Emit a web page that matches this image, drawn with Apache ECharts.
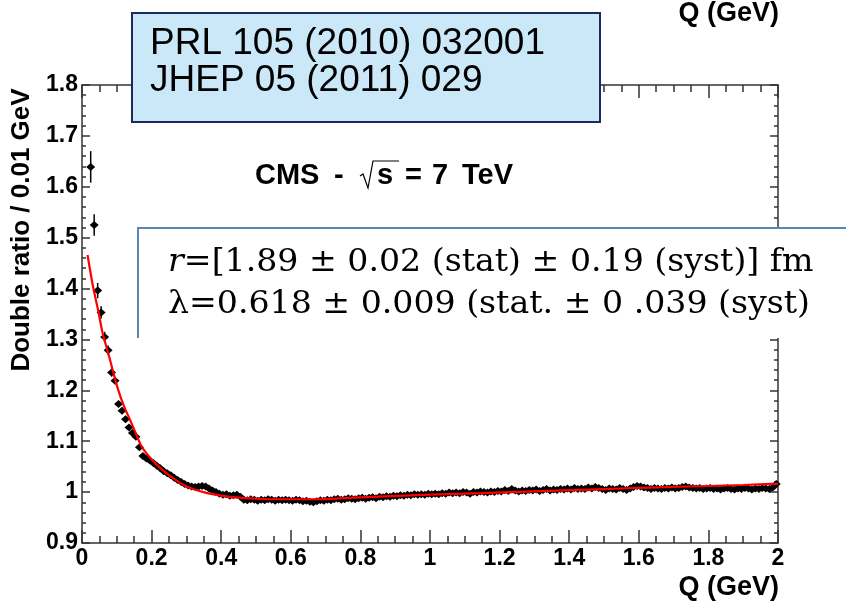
<!DOCTYPE html>
<html><head><meta charset="utf-8">
<script src="https://cdn.jsdelivr.net/npm/echarts@6/dist/echarts.min.js"></script>
<style>html,body{margin:0;padding:0;background:#fff}#c{width:846px;height:602px}</style>
</head><body><div id="c"></div>
<script>
// Bin centres (GeV)
const qValues = [
0.025,0.035,0.045,0.055,0.065,0.075,0.085,0.095,0.105,0.115,
0.125,0.135,0.145,0.155,0.165,0.175,0.185,0.195,0.205,0.215,
0.225,0.235,0.245,0.255,0.265,0.275,0.285,0.295,0.305,0.315,
0.325,0.335,0.345,0.355,0.365,0.375,0.385,0.395,0.405,0.415,
0.425,0.435,0.445,0.455,0.465,0.475,0.485,0.495,0.505,0.515,
0.525,0.535,0.545,0.555,0.565,0.575,0.585,0.595,0.605,0.615,
0.625,0.635,0.645,0.655,0.665,0.675,0.685,0.695,0.705,0.715,
0.725,0.735,0.745,0.755,0.765,0.775,0.785,0.795,0.805,0.815,
0.825,0.835,0.845,0.855,0.865,0.875,0.885,0.895,0.905,0.915,
0.925,0.935,0.945,0.955,0.965,0.975,0.985,0.995,1.005,1.015,
1.025,1.035,1.045,1.055,1.065,1.075,1.085,1.095,1.105,1.115,
1.125,1.135,1.145,1.155,1.165,1.175,1.185,1.195,1.205,1.215,
1.225,1.235,1.245,1.255,1.265,1.275,1.285,1.295,1.305,1.315,
1.325,1.335,1.345,1.355,1.365,1.375,1.385,1.395,1.405,1.415,
1.425,1.435,1.445,1.455,1.465,1.475,1.485,1.495,1.505,1.515,
1.525,1.535,1.545,1.555,1.565,1.575,1.585,1.595,1.605,1.615,
1.625,1.635,1.645,1.655,1.665,1.675,1.685,1.695,1.705,1.715,
1.725,1.735,1.745,1.755,1.765,1.775,1.785,1.795,1.805,1.815,
1.825,1.835,1.845,1.855,1.865,1.875,1.885,1.895,1.905,1.915,
1.925,1.935,1.945,1.955,1.965,1.975,1.985,1.995
];
// Double ratio per bin
const ratioValues = [
1.639,1.525,1.396,1.353,1.305,1.279,1.235,1.219,1.173,1.160,
1.143,1.127,1.116,1.109,1.088,1.071,1.066,1.062,1.057,1.052,
1.047,1.041,1.037,1.033,1.028,1.024,1.020,1.016,1.013,1.011,
1.010,1.011,1.012,1.011,1.007,1.003,1.000,0.997,0.995,0.996,
0.993,0.994,0.995,0.991,0.985,0.984,0.986,0.985,0.983,0.985,
0.984,0.986,0.985,0.983,0.985,0.984,0.985,0.984,0.983,0.985,
0.984,0.982,0.983,0.981,0.980,0.982,0.984,0.983,0.985,0.984,
0.986,0.987,0.985,0.986,0.988,0.987,0.986,0.988,0.989,0.987,
0.989,0.990,0.988,0.991,0.990,0.992,0.991,0.993,0.992,0.994,
0.993,0.995,0.994,0.996,0.995,0.996,0.995,0.997,0.996,0.997,
0.996,0.998,0.997,0.999,0.998,0.999,0.998,1.000,0.999,0.997,
1.000,0.999,1.001,1.000,0.999,1.001,1.000,1.002,1.001,1.004,
1.002,1.006,1.003,1.001,1.003,1.002,1.004,1.003,1.005,1.002,
1.004,1.006,1.003,1.005,1.004,1.006,1.005,1.007,1.005,1.008,
1.006,1.007,1.006,1.009,1.007,1.010,1.008,1.006,1.004,1.007,
1.006,1.005,1.008,1.006,1.004,1.007,1.010,1.012,1.011,1.009,
1.008,1.006,1.008,1.007,1.006,1.008,1.007,1.009,1.007,1.008,
1.010,1.011,1.009,1.008,1.007,1.008,1.006,1.007,1.008,1.006,
1.007,1.005,1.007,1.008,1.006,1.005,1.007,1.006,1.008,1.007,
1.005,1.007,1.006,1.008,1.007,1.006,1.009,1.016
];
// Statistical errors of the first bins (later ones hidden under markers)
const ratioErrors = [0.031,0.021,0.015,0.012,0.010,0.009,0.008,0.007,0.006,0.006,0.005,0.005];
// Fit curve
const fitQ = [0.016,0.03,0.047,0.06,0.0755,0.09,0.104,0.12,0.138,0.155,0.171,0.195,0.219,0.245,0.267,0.295,0.319,0.36,0.4,0.45,0.5,0.55,0.6,0.68,0.75,0.85,1.0,1.15,1.32,1.5,1.63,1.8,1.9,2.0];
const fitValues = [1.466,1.41,1.355,1.31,1.273,1.235,1.201,1.17,1.142,1.115,1.090,1.068,1.051,1.036,1.025,1.013,1.006,0.998,0.993,0.989,0.987,0.986,0.986,0.986,0.988,0.991,0.995,0.998,1.002,1.006,1.009,1.012,1.014,1.0165];

const chart = echarts.init(document.getElementById('c'), null, {renderer: 'canvas'});
const pts = qValues.map((q, i) => [q, ratioValues[i]]);
const errPts = ratioErrors.map((e, i) => [qValues[i], ratioValues[i], e]);
const fitPts = fitQ.map((q, i) => [q, fitValues[i]]);

const SANS = '"Liberation Sans", Arial, Helvetica, sans-serif';
const SERIF = '"DejaVu Serif", "Liberation Serif", serif';
const AX = '#333';
const lbl = {fontFamily: SANS, fontWeight: 'bold', fontSize: 23, color: '#000'};

function xAx(pos, showLabel) {
  return {type: 'value', min: 0, max: 2, interval: 0.2, position: pos,
    axisLine: {show: true, onZero: false, lineStyle: {color: AX, width: 1.5}},
    axisTick: {show: true, inside: true, length: 13, lineStyle: {color: AX, width: 1.5}},
    minorTick: {show: true, splitNumber: 4, length: 7, lineStyle: {color: AX, width: 1.5}},
    splitLine: {show: false}, minorSplitLine: {show: false},
    axisLabel: Object.assign({show: showLabel, margin: 4}, lbl)};
}
function yAx(pos, showLabel) {
  return {type: 'value', min: 0.9, max: 1.8, interval: 0.1, position: pos,
    axisLine: {show: true, onZero: false, lineStyle: {color: AX, width: 1.5}},
    axisTick: {show: true, inside: true, length: 8, lineStyle: {color: AX, width: 1.5}},
    minorTick: {show: true, splitNumber: 5, length: 4, lineStyle: {color: AX, width: 1.5}},
    splitLine: {show: false}, minorSplitLine: {show: false},
    axisLabel: Object.assign({show: showLabel, margin: 4}, lbl)};
}
function boldText(t, x, y, size) {
  return {type: 'text', z: 101, x: x, y: y,
    style: {text: t, font: 'bold ' + size + 'px ' + SANS, fill: '#000', verticalAlign: 'middle'}};
}

const option = {
  animation: false,
  backgroundColor: '#fff',
  grid: {left: 82, right: 68, top: 85, bottom: 59},
  xAxis: [xAx('bottom', true), xAx('top', false)],
  yAxis: [yAx('left', true), yAx('right', false)],
  series: [
    {type: 'custom', data: errPts, encode: {x: 0, y: 1}, z: 2,
      renderItem: function (params, api) {
        const x = api.value(0), y = api.value(1), e = api.value(2);
        const p1 = api.coord([x, y - e]), p2 = api.coord([x, y + e]);
        return {type: 'line', shape: {x1: p1[0], y1: p1[1], x2: p2[0], y2: p2[1]},
          style: {stroke: '#000', lineWidth: 1.5}};
      }},
    {type: 'scatter', data: pts, symbol: 'diamond', symbolSize: [9, 8], itemStyle: {color: '#000', opacity: 1}, z: 3},
    {type: 'line', data: fitPts, smooth: 0.3, showSymbol: false, symbol: 'none',
      lineStyle: {color: '#ff0000', width: 2.2}, z: 4}
  ],
  graphic: [
    {type: 'rect', z: 100, shape: {x: 132, y: 13, width: 468, height: 109},
      style: {fill: '#cbe8f9', stroke: '#1c2b5e', lineWidth: 2}},
    {type: 'text', z: 101, x: 150, y: 44,
      style: {text: 'PRL 105 (2010) 032001', font: '37px ' + SANS, fill: '#000', verticalAlign: 'middle'}},
    {type: 'text', z: 101, x: 150, y: 81,
      style: {text: 'JHEP 05 (2011) 029', font: '37px ' + SANS, fill: '#000', verticalAlign: 'middle'}},
    {type: 'text', z: 101, x: 779, y: 14, style: {text: 'Q (GeV)', font: 'bold 27px ' + SANS, fill: '#000', align: 'right', verticalAlign: 'middle'}},
    {type: 'text', z: 101, x: 779, y: 588, style: {text: 'Q (GeV)', font: 'bold 27px ' + SANS, fill: '#000', align: 'right', verticalAlign: 'middle'}},
    {type: 'text', z: 101, x: 22, y: 230, rotation: Math.PI / 2,
      style: {text: 'Double ratio / 0.01 GeV', font: 'bold 26px ' + SANS, fill: '#000', align: 'center', verticalAlign: 'middle'}},
    boldText('CMS', 255, 176, 29),
    boldText('-', 334, 176, 29),
    {type: 'polyline', z: 101, shape: {points: [[360, 176], [363, 174], [368, 188], [373, 161], [399, 161]]},
      style: {stroke: '#000', lineWidth: 1.2, fill: null}},
    boldText('s', 377, 176, 29),
    boldText('=', 405, 176, 29),
    boldText('7', 432, 176, 29),
    boldText('TeV', 462, 176, 29),
    {type: 'rect', z: 100, shape: {x: 138, y: 228, width: 720, height: 110}, style: {fill: '#fff', stroke: null}},
    {type: 'polyline', z: 101, shape: {points: [[138, 338], [138, 228], [846, 228]]},
      style: {stroke: '#5b86b2', lineWidth: 2, fill: null}},
    {type: 'text', z: 101, x: 168, y: 263, scaleX: 1.07, style: {
      text: '{i|r}=[1.89 ± 0.02 (stat) ± 0.19 (syst)] fm',
      font: '31px ' + SERIF, fill: '#000', verticalAlign: 'middle',
      rich: {i: {fontFamily: SERIF, fontStyle: 'italic', fontSize: 31}}}},
    {type: 'text', z: 101, x: 168, y: 305, scaleX: 1.07, style: {
      text: 'λ=0.618 ± 0.009 (stat. ± 0 .039 (syst)',
      font: '31px ' + SERIF, fill: '#000', verticalAlign: 'middle'}}
  ]
};
chart.setOption(option);
</script>
</body></html>
